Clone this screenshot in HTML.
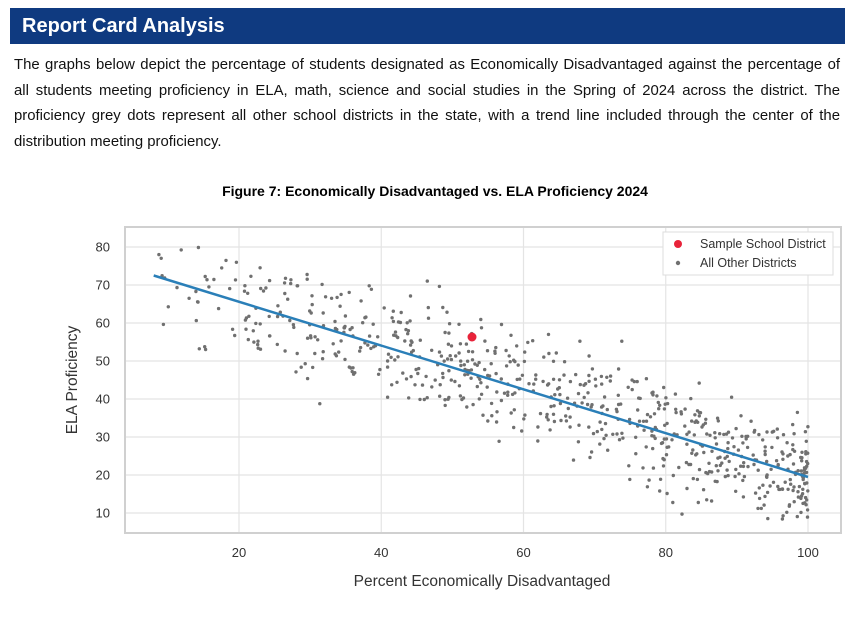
<!DOCTYPE html>
<html><head><meta charset="utf-8"><style>
body{margin:0;width:852px;height:618px;background:#fff;font-family:"Liberation Sans",Arial,sans-serif;position:relative;overflow:hidden}
.hdr{position:absolute;left:10px;top:8px;width:835px;height:36px;background:#0f3a80;color:#fff;font-weight:bold;font-size:20px;line-height:36px;padding-left:12px;box-sizing:border-box}
.p{position:absolute;left:14px;top:53px;width:826px;font-size:14.9px;line-height:25.5px;color:#111}
.p div{white-space:nowrap;text-align:justify;text-align-last:justify}
.p div.l{text-align-last:left}
</style></head><body>
<div class="hdr">Report Card Analysis</div>
<div class="p">
<div>The graphs below depict the percentage of students designated as Economically Disadvantaged against the percentage of</div>
<div>all students meeting proficiency in ELA, math, science and social studies in the Spring of 2024 across the district. The</div>
<div>proficiency grey dots represent all other school districts in the state, with a trend line included through the center of the</div>
<div class="l">distribution meeting proficiency.</div>
</div>
<svg id="s" width="852" height="618" style="position:absolute;left:0;top:0" font-family="Liberation Sans, Arial, sans-serif">
<text x="435" y="196" text-anchor="middle" font-weight="bold" font-size="14" fill="#000">Figure 7: Economically Disadvantaged vs. ELA Proficiency 2024</text>
<rect x="125" y="227" width="716" height="306" fill="#fff" stroke="#d0d0d0" stroke-width="2"/>
<g id="grid" stroke="#e4e4e4" stroke-width="1.2"></g>
<g id="dots" fill="#707070"></g>
<line x1="153.7" y1="275.5" x2="808" y2="477" stroke="#2a7fb8" stroke-width="2.5"/>
<circle cx="472" cy="337" r="4.5" fill="#e8233a"/>
<g font-size="13" fill="#333" id="ticks"></g>
<text x="482" y="586" text-anchor="middle" font-size="15.5" fill="#333">Percent Economically Disadvantaged</text>
<text transform="translate(77,380) rotate(-90)" text-anchor="middle" font-size="15.5" fill="#333">ELA Proficiency</text>
<rect x="663" y="232" width="170" height="43" fill="#fff" stroke="#ddd"/>
<circle cx="678" cy="244" r="4" fill="#e8233a"/>
<circle cx="678" cy="263" r="2.2" fill="#707070"/>
<text x="700" y="248" font-size="12.5" fill="#333">Sample School District</text>
<text x="700" y="267" font-size="12.5" fill="#333">All Other Districts</text>
</svg>
<script>
var ns="http://www.w3.org/2000/svg";
function X(v){return 96.75+v*7.1125}
function Yv(v){return 247+(80-v)*3.8}
var g=document.getElementById('grid'),t=document.getElementById('ticks'),d=document.getElementById('dots');
function el(p,n,a,txt){var e=document.createElementNS(ns,n);for(var k in a)e.setAttribute(k,a[k]);if(txt)e.textContent=txt;p.appendChild(e);}
[20,40,60,80,100].forEach(function(v){el(g,'line',{x1:X(v),x2:X(v),y1:228,y2:532});el(t,'text',{x:X(v),y:557,'text-anchor':'middle'},String(v));});
[10,20,30,40,50,60,70,80].forEach(function(v){el(g,'line',{x1:126,x2:840,y1:Yv(v),y2:Yv(v)});el(t,'text',{x:110,y:Yv(v)+4.5,'text-anchor':'end'},String(v));});
var s=12345;function r(){s=(s*1103515245+12345)%2147483648;return s/2147483648;}
function gn(){return (r()+r()+r()+r()-2)*1.73;}
for(var i=0;i<700;i++){var x;var u=r();
if(u<0.035)x=8+r()*12;else if(u<0.075)x=99+r()*1;else x=20+Math.pow(r(),0.8)*80;
var y=72.5-0.576*(x-8)+gn()*7;if(y<8)y=8+r()*3;if(y>81)y=81-r()*3;
el(d,'circle',{cx:X(x).toFixed(1),cy:Yv(y).toFixed(1),r:1.7});}
</script>
</body></html>
